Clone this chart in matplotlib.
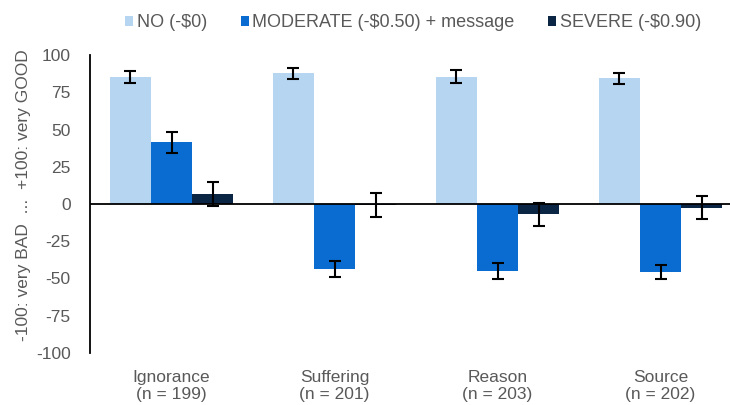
import matplotlib.pyplot as plt
import numpy as np

plt.rcParams['font.family'] = ['Liberation Sans', 'DejaVu Sans']
plt.rcParams['axes.unicode_minus'] = False

categories = ['Ignorance\n(n = 199)', 'Suffering\n(n = 201)', 'Reason\n(n = 203)', 'Source\n(n = 202)']
series_names = [r'NO (-\$0)', r'MODERATE (-\$0.50) + message', r'SEVERE (-\$0.90)']

no_vals = [85.4, 87.7, 85.4, 84.3]
no_err = [4.0, 3.5, 4.5, 3.7]
moderate_vals = [41.4, -43.8, -44.7, -45.6]
moderate_err = [7.0, 5.5, 5.3, 4.8]
severe_vals = [6.9, -0.8, -6.9, -2.5]
severe_err = [8.0, 8.0, 7.8, 7.8]

colors = ['#B6D5F0', '#0A6CD1', '#0B2545']
grey = '#595959'

fig = plt.figure(figsize=(7.3, 4.05), dpi=100)
ax = fig.add_axes([90 / 730, 52 / 405, 652 / 730, 298 / 405])

x = np.arange(len(categories))
w = 0.252
for i, (vals, errs) in enumerate([(no_vals, no_err), (moderate_vals, moderate_err), (severe_vals, severe_err)]):
    ax.bar(x + (i - 1) * w, vals, w, color=colors[i], label=series_names[i],
           yerr=errs, error_kw=dict(ecolor='black', elinewidth=1.5, capsize=4, capthick=1.5), zorder=2)

ax.axhline(0, color='black', lw=1.3, zorder=3)
ax.set_xlim(-0.5, 3.5)
ax.set_ylim(-100, 100)
ax.set_yticks(np.arange(-100, 101, 25))
ax.tick_params(axis='y', length=0, labelsize=12.5, labelcolor=grey, pad=14)
ax.tick_params(axis='x', length=0, labelsize=12.5, labelcolor=grey, pad=12)
ax.set_xticks(x)
ax.set_xticklabels(categories, linespacing=1.2)
for s in ['top', 'right', 'bottom']:
    ax.spines[s].set_visible(False)
ax.spines['left'].set_color('black')
ax.spines['left'].set_linewidth(1.3)
ax.set_ylabel('-100: very BAD  ...  +100: very GOOD', fontsize=12.5, color=grey)
ax.yaxis.set_label_coords(-0.09, 0.53)

fig.legend(loc='upper center', bbox_to_anchor=(0.566, 1.005), ncol=3, frameon=False,
           fontsize=13, handlelength=0.45, handleheight=0.45, handletextpad=0.2,
           columnspacing=1.85, labelcolor=grey)

fig.savefig('out.png', dpi=100)
